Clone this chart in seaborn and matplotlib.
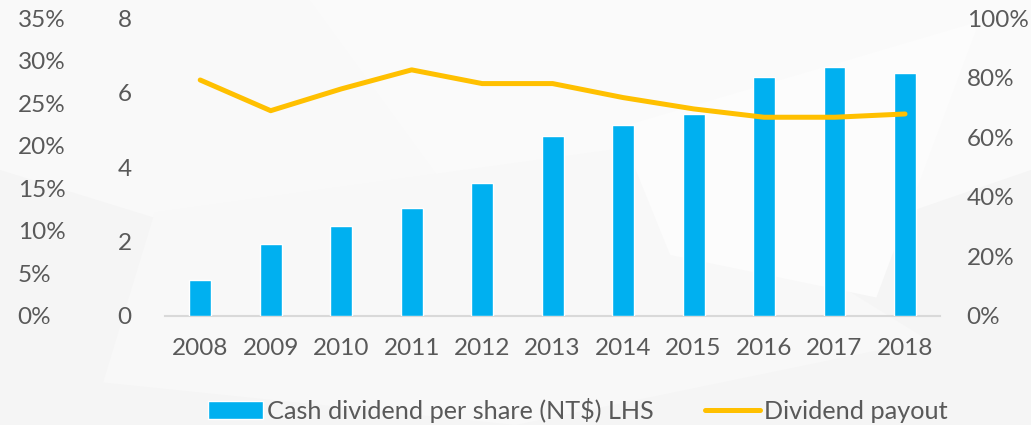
import matplotlib
matplotlib.use("Agg")
import matplotlib.pyplot as plt
import seaborn as sns
import pandas as pd
import numpy as np
from matplotlib.patches import Polygon
from matplotlib.ticker import FuncFormatter

years = ["2008", "2009", "2010", "2011", "2012", "2013", "2014", "2015", "2016", "2017", "2018"]
cash_dividend = [0.97, 1.93, 2.42, 2.91, 3.58, 4.84, 5.13, 5.42, 6.41, 6.69, 6.52]
payout = [0.792, 0.689, 0.762, 0.826, 0.780, 0.780, 0.733, 0.695, 0.667, 0.667, 0.678]
left_pct_ticks = [0, 0.05, 0.10, 0.15, 0.20, 0.25, 0.30, 0.35]
left_ticks = [0, 2, 4, 6, 8]
right_ticks = [0, 0.2, 0.4, 0.6, 0.8, 1.0]

bar_label = "Cash dividend per share (NT$) LHS"
line_label = "Dividend payout"

BLUE = "#00B0F0"
GOLD = "#FFC000"
TXT = "#595959"

sns.set_theme(style="white")
plt.rcParams["font.family"] = ["Lato", "DejaVu Sans"]
FS = 17.5
LFS = 18.2

df = pd.DataFrame({"year": years, "cash": cash_dividend, "payout": payout})

fig = plt.figure(figsize=(10.31, 4.25), dpi=100)
fig.patch.set_facecolor("#f5f5f5")
# faint background shapes
shapes = [
    ([(0.0, 1.0), (0.35, 1.0), (0.55, 0.55), (0.2, 0.45), (0.0, 0.6)], "#f9f9f9"),
    ([(0.3, 1.0), (1.0, 1.0), (1.0, 0.6), (0.7, 0.35), (0.45, 0.5)], "#fafafa"),
    ([(0.15, 0.5), (0.6, 0.65), (0.9, 0.2), (0.5, 0.0), (0.1, 0.1)], "#f8f8f8"),
    ([(0.6, 0.7), (0.95, 0.95), (0.85, 0.3), (0.65, 0.4)], "#fcfcfc"),
]
for pts, c in shapes:
    fig.patches.append(Polygon(pts, closed=True, transform=fig.transFigure,
                               facecolor=c, edgecolor="none", zorder=-10))

ax = fig.add_axes([0.160, 0.2565, 0.752, 0.7011])
ax.patch.set_visible(False)

sns.barplot(data=df, x="year", y="cash", color=BLUE, width=0.31,
            saturation=1, ax=ax, label=bar_label, zorder=3)
ax.set_xlim(-0.5, len(years) - 0.5)
ax.set_ylim(0, 8)
ax.set_yticks(left_ticks)
ax.set_xlabel("")
ax.set_ylabel("")
for s in ["top", "right", "left"]:
    ax.spines[s].set_visible(False)
ax.spines["bottom"].set_color("#d9d9d9")
ax.spines["bottom"].set_linewidth(1.5)
ax.tick_params(axis="both", length=0, labelsize=FS, labelcolor=TXT)
ax.tick_params(axis="y", pad=24)
ax.tick_params(axis="x", pad=16)

# right axis: payout
ax2 = ax.twinx()
sns.pointplot(data=df, x="year", y="payout", color=GOLD, markers="",
              ax=ax2, lw=3.6, label=line_label, solid_capstyle="round",
              solid_joinstyle="round")
ax2.set_ylim(0, 1.0)
ax2.set_yticks(right_ticks)
ax2.yaxis.set_major_formatter(FuncFormatter(lambda v, p: f"{v*100:.0f}%"))
ax2.set_ylabel("")
for s in ax2.spines.values():
    s.set_visible(False)
ax2.tick_params(axis="y", length=0, labelsize=FS, labelcolor=TXT, pad=19)

# far-left percent axis
ax3 = ax.twinx()
ax3.set_ylim(0, 0.35)
ax3.set_yticks(left_pct_ticks)
ax3.yaxis.set_ticks_position("left")
ax3.yaxis.set_major_formatter(FuncFormatter(lambda v, p: f"{v*100:.0f}%"))
for s in ax3.spines.values():
    s.set_visible(False)
ax3.tick_params(axis="y", length=0, labelsize=FS, labelcolor=TXT, pad=106)
for t in ax3.get_yticklabels():
    t.set_horizontalalignment("left")

ax.set_xlim(-0.5, len(years) - 0.5)

h1, l1 = ax.get_legend_handles_labels()
h2, l2 = ax2.get_legend_handles_labels()
leg = fig.legend(h1 + h2, l1 + l2, loc="center", bbox_to_anchor=(0.5605, 0.035),
                 ncol=2, frameon=False, fontsize=LFS, labelcolor=TXT,
                 handlelength=2.2, handletextpad=0.16, columnspacing=2.0)
if ax.get_legend():
    ax.get_legend().remove()
if ax2.get_legend():
    ax2.get_legend().remove()

fig.savefig("out.png", dpi=100, facecolor=fig.get_facecolor())
